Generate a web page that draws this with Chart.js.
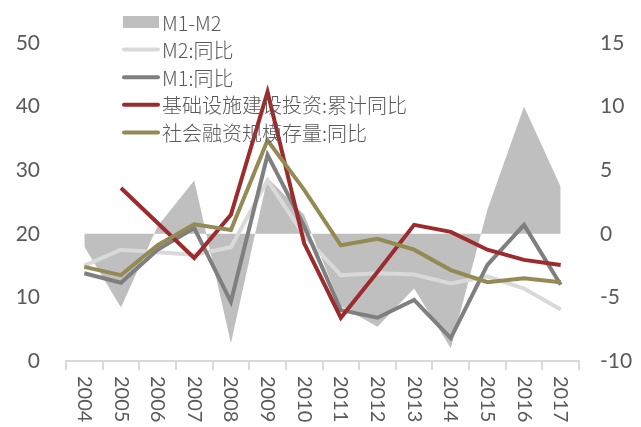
<!DOCTYPE html>
<html lang="zh">
<head>
<meta charset="UTF-8">
<title>M1-M2 与基建投资</title>
<script src="https://cdn.jsdelivr.net/npm/chart.js"></script>
<style>
  html, body { margin: 0; padding: 0; background: #fff; }
  #wrap { width: 641px; height: 427px; }
</style>
</head>
<body>
<div id="wrap"><canvas id="chart" width="641" height="427"></canvas></div>
<script>
// data
const years = ['2004','2005','2006','2007','2008','2009','2010','2011','2012','2013','2014','2015','2016','2017'];
const m1m2 = [-1.0, -5.8, 0.6, 4.2, -8.6, 4.4, 1.5, -5.7, -7.3, -4.3, -9.0, 1.9, 10.0, 3.7];
const m2 = [15.0, 17.5, 17.1, 16.7, 17.9, 28.4, 19.7, 13.5, 13.8, 13.6, 12.2, 13.3, 11.4, 8.1];
const m1 = [13.8, 12.3, 17.5, 20.9, 9.3, 32.4, 21.2, 8.0, 6.8, 9.6, 3.6, 15.1, 21.4, 12.0];
const infra = [null, 27.2, 21.7, 16.2, 23.0, 42.3, 18.5, 6.8, 14.0, 21.4, 20.3, 17.5, 15.9, 15.1];
const tsf = [14.8, 13.5, 18.2, 21.5, 20.6, 34.7, 26.9, 18.2, 19.2, 17.5, 14.3, 12.4, 13.0, 12.4];
const leftTicks = [0, 10, 20, 30, 40, 50];
const rightTicks = [-10, -5, 0, 5, 10, 15];

const txt = '#595959';
const numFont = 'Lato, "Open Sans", sans-serif';
const cjkFont = '"Noto Sans CJK SC", sans-serif';

function line(label, data, color, order) {
    return {
        type: 'line', label: label, data: data, yAxisID: 'y',
        borderColor: color, backgroundColor: color, borderWidth: 4,
        pointRadius: 0, tension: 0, fill: false, order: order, spanGaps: false
    };
}

// custom vertical legend, top-left like the original
const legendPlugin = {
    id: 'sideLegend',
    afterDraw(chart) {
        const ctx = chart.ctx;
        ctx.save();
        ctx.font = '300 20px ' + cjkFont;
        ctx.textBaseline = 'middle';
        ctx.textAlign = 'left';
        chart.data.datasets.forEach((ds, i) => {
            const y = 22 + i * 27.6;
            if (ds.fill) {
                ctx.fillStyle = ds.backgroundColor;
                ctx.fillRect(123, y - 6, 36, 12);
            } else {
                ctx.strokeStyle = ds.borderColor;
                ctx.lineWidth = 4;
                ctx.lineCap = 'round';
                ctx.beginPath();
                ctx.moveTo(124, y);
                ctx.lineTo(158, y);
                ctx.stroke();
            }
            ctx.fillStyle = txt;
            ctx.fillText(ds.label, 162, y + 1);
        });
        ctx.restore();
    }
};

// x labels rotated clockwise (read top to bottom)
const xLabelPlugin = {
    id: 'xLabels',
    afterDraw(chart) {
        const ctx = chart.ctx;
        const xs = chart.scales.x;
        ctx.save();
        ctx.font = '20px ' + numFont;
        ctx.fillStyle = txt;
        ctx.textAlign = 'left';
        ctx.textBaseline = 'middle';
        years.forEach((yr, i) => {
            ctx.save();
            ctx.translate(xs.getPixelForValue(i), xs.top + 15);
            ctx.rotate(Math.PI / 2);
            ctx.fillText(yr, 0, 0);
            ctx.restore();
        });
        ctx.restore();
    }
};

new Chart(document.getElementById('chart'), {
    type: 'line',
    data: {
        labels: years,
        datasets: [
            {
                type: 'line', label: 'M1-M2', data: m1m2, yAxisID: 'y1',
                backgroundColor: '#bfbfbf', borderColor: '#bfbfbf', borderWidth: 0,
                pointRadius: 0, tension: 0, fill: 'origin', order: 5
            },
            line('M2:同比', m2, '#d9d9d9', 4),
            line('M1:同比', m1, '#7f7f7f', 3),
            line('基础设施建设投资:累计同比', infra, '#9b2b2c', 2),
            line('社会融资规模存量:同比', tsf, '#948a54', 1)
        ]
    },
    options: {
        responsive: false,
        animation: false,
        layout: { padding: { top: 43, left: 0, right: 0, bottom: 0 } },
        plugins: { legend: { display: false }, tooltip: { enabled: false } },
        scales: {
            x: {
                offset: true,
                grid: { display: true, drawOnChartArea: false, drawTicks: true, tickLength: 9, color: '#d9d9d9', lineWidth: 2, offset: true },
                border: { display: true, color: '#d9d9d9', width: 2 },
                ticks: { display: false },
                afterFit(s) { s.height = 66; }
            },
            y: {
                position: 'left', min: 0, max: 50,
                afterBuildTicks(s) { s.ticks = leftTicks.map(v => ({ value: v })); },
                grid: { display: false, drawTicks: false },
                border: { display: false },
                ticks: { color: txt, font: { family: numFont, size: 21 }, padding: 26 },
                afterFit(s) { s.width = 66; }
            },
            y1: {
                position: 'right', min: -10, max: 15,
                afterBuildTicks(s) { s.ticks = rightTicks.map(v => ({ value: v })); },
                grid: { display: false, drawTicks: false },
                border: { display: false },
                ticks: { color: txt, font: { family: numFont, size: 21 }, padding: 21 },
                afterFit(s) { s.width = 62; }
            }
        }
    },
    plugins: [legendPlugin, xLabelPlugin]
});
</script>
</body>
</html>
